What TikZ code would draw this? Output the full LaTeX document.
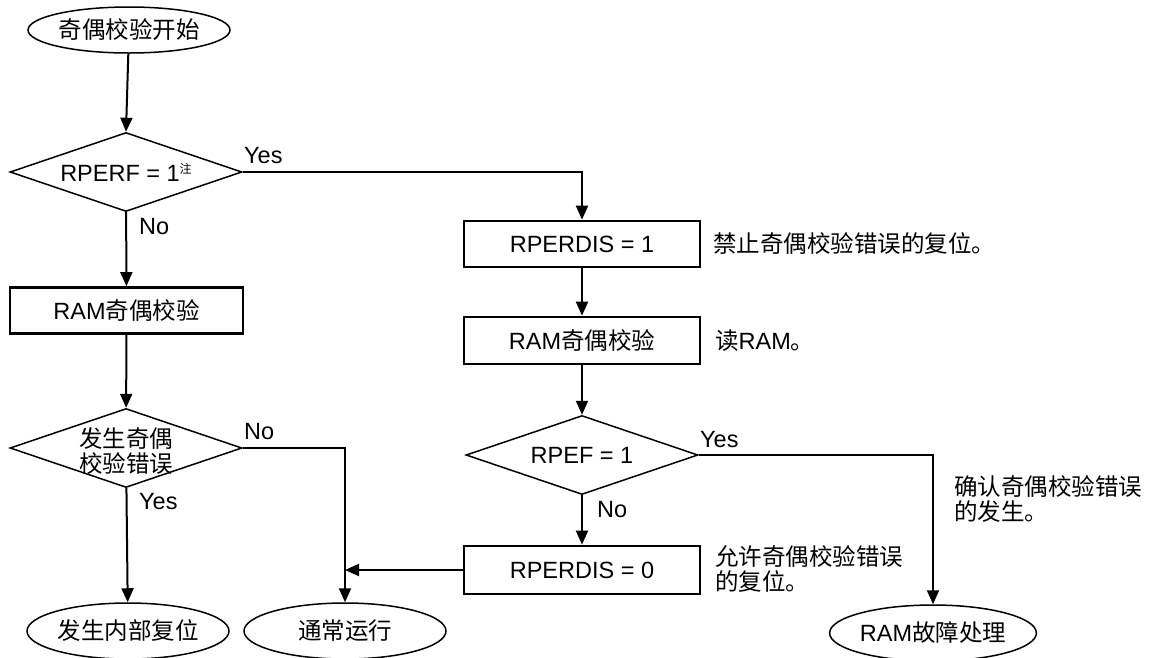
\documentclass[tikz,border=0pt]{standalone}
\usepackage{fontspec}
\setmainfont{Liberation Sans}
\newfontfamily\cjk{Noto Sans CJK SC}
\usetikzlibrary{shapes.geometric,arrows.meta}
\begin{document}
\begin{tikzpicture}[x=1pt,y=-1pt,font=\fontsize{23.5}{24.5}\selectfont]
\tikzset{
 term/.style={ellipse, draw, line width=1.5pt, minimum width=202pt, minimum height=56pt, inner sep=0pt},
 proc/.style={rectangle, draw, line width=2.7pt, minimum width=234pt, minimum height=46pt, inner sep=0pt},
 dec/.style={diamond, draw, line width=1.5pt, minimum width=232pt, minimum height=79pt, inner sep=0pt},
 conn/.style={line width=2pt, -{Triangle[length=14pt,width=12pt]}},
 lbl/.style={inner sep=0pt, anchor=west},
 note/.style={inner sep=0pt, anchor=west, align=left},
}
\useasboundingbox (0,0) rectangle (1149,657);
\clip (0,0) rectangle (1149,657);
% left column
\node[term, minimum height=46pt] (start) at (129,30) {{\cjk 奇偶校验开始}};
\node[dec] (d1) at (126,172) {};
\node (d1t) at (126,172) {RPERF = 1{\cjk\raisebox{8pt}{\fontsize{12}{12}\selectfont 注}}};
\node[proc, minimum width=233pt] (b1) at (126.5,310.5) {RAM{\cjk 奇偶校验}};
\node[dec] (d2) at (126,448) {};
\node[align=center, inner sep=0pt] (d2t) at (126,451) {{\cjk 发生奇偶}\\{\cjk 校验错误}};
\node[term] (ereset) at (128,631) {{\cjk 发生内部复位}};
\node[term] (enormal) at (345,631) {{\cjk 通常运行}};
% right column
\node[proc, minimum width=236pt] (b2) at (582,244) {RPERDIS = 1};
\node[proc, minimum width=236pt, minimum height=47pt] (b3) at (582,340.5) {RAM{\cjk 奇偶校验}};
\node[dec] (d3) at (582,455) {};
\node (d3t) at (582,455) {RPEF = 1};
\node[proc, minimum width=236pt, minimum height=48pt] (b4) at (582,570) {RPERDIS = 0};
\node[term] (eram) at (933,633) {RAM{\cjk 故障处理}};
% connectors
\draw[conn] (start) -- (d1.north);
\draw[conn] (d1) -- (b1);
\draw[conn] (b1) -- (d2);
\draw[conn] (d2) -- (ereset);
\draw[conn] (d2.east) -| (enormal.north);
\draw[conn] (d1.east) -| (b2.north);
\draw[conn] (b2) -- (b3);
\draw[conn] (b3) -- (d3);
\draw[conn] (d3) -- (b4);
\draw[conn] (b4.west) -- (b4.west -| enormal.north);
\draw[conn] (d3.east) -| (eram.north);
% branch labels
\node[lbl] (y1) at (244,156) {Yes};
\node[lbl] (n1) at (139,227) {No};
\node[lbl] (n2) at (244,432) {No};
\node[lbl] (y2) at (139,502) {Yes};
\node[lbl] (y3) at (700,440) {Yes};
\node[lbl] (n3) at (597,510) {No};
% notes
\node[note] (t1) at (713,244) {{\cjk 禁止奇偶校验错误的复位。}};
\node[note] (t2) at (715,341) {{\cjk 读}RAM{\cjk 。}};
\node[note] (t3) at (954,499) {{\cjk 确认奇偶校验错误}\\{\cjk 的发生。}};
\node[note] (t4) at (715,569) {{\cjk 允许奇偶校验错误}\\{\cjk 的复位。}};
\end{tikzpicture}
\end{document}
